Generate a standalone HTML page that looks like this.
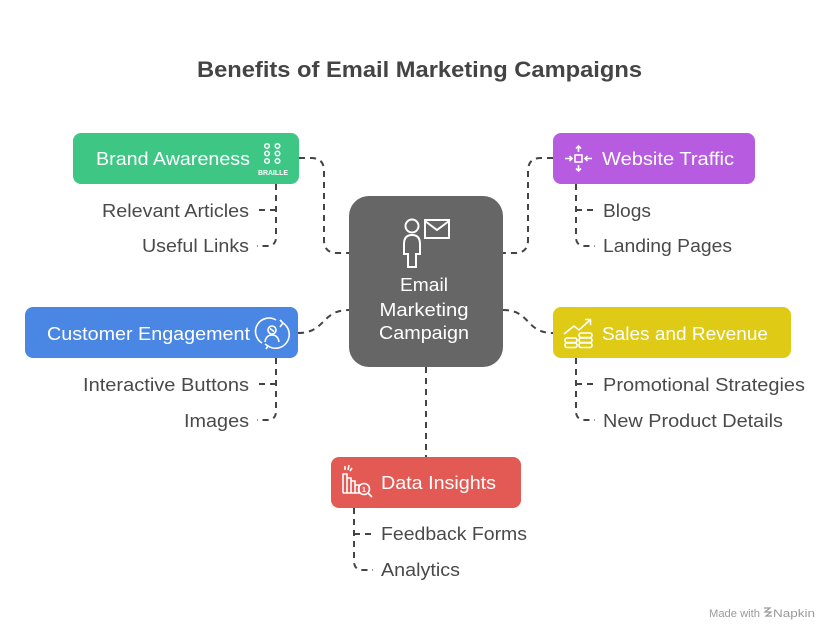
<!DOCTYPE html>
<html><head><meta charset="utf-8"><style>
html,body{margin:0;padding:0;background:#fff;}
svg{display:block;}
text{font-family:"Liberation Sans",sans-serif;}
</style></head><body>
<svg width="840" height="640" viewBox="0 0 840 640" xmlns="http://www.w3.org/2000/svg">
<rect width="840" height="640" fill="#fff"/>
<text x="197" y="77" font-size="22" font-weight="bold" fill="#444" textLength="445" lengthAdjust="spacingAndGlyphs">Benefits of Email Marketing Campaigns</text>

<g fill="none" stroke="#444" stroke-width="2" stroke-dasharray="6 5">
<path d="M299,158 H311 Q324,158 324,171 V240 Q324,253 337,253 H349"/>
<path d="M553,158 H541 Q528,158 528,171 V240 Q528,253 515,253 H503"/>
<path d="M298,333 C326,333 321,310 349,310"/>
<path d="M503,310 C531,310 525,333 553,333"/>
<path d="M426,367 V457"/>
<path d="M276,184 V237 Q276,246 267,246 H257"/>
<path d="M276,210 H258"/>
<path d="M276,358 V411 Q276,420 267,420 H257"/>
<path d="M276,384 H258"/>
<path d="M576,184 V237 Q576,246 585,246 H595"/>
<path d="M576,210 H595"/>
<path d="M576,358 V411 Q576,420 585,420 H595"/>
<path d="M576,384 H595"/>
<path d="M354,508 V561 Q354,570 363,570 H373"/>
<path d="M354,534 H373"/>
</g>

<!-- center -->
<rect x="349" y="196" width="154" height="171" rx="20" fill="#666"/>
<g fill="none" stroke="#fff" stroke-width="2">
<circle cx="412" cy="226" r="6.5"/>
<path d="M408,267 V254 H404 V244 Q404,235 412,235 Q420,235 420,244 V254 H416 V267 Z"/>
<rect x="425" y="220" width="24" height="18"/>
<path d="M425,221 L437,230 L449,221"/>
</g>
<g fill="#fff" font-size="18" text-anchor="middle">
<text x="424" y="291" textLength="48" lengthAdjust="spacingAndGlyphs">Email</text>
<text x="424" y="316" textLength="89" lengthAdjust="spacingAndGlyphs">Marketing</text>
<text x="424" y="339" textLength="90" lengthAdjust="spacingAndGlyphs">Campaign</text>
</g>

<!-- Brand Awareness -->
<rect x="73" y="133" width="226" height="51" rx="8" fill="#3EC685"/>
<text x="96" y="165" font-size="18" fill="#fff" textLength="154" lengthAdjust="spacingAndGlyphs">Brand Awareness</text>
<g fill="none" stroke="#fff" stroke-width="1.5">
<circle cx="267" cy="146" r="2.3"/><circle cx="277.5" cy="146" r="2.3"/>
<circle cx="267" cy="153.5" r="2.3"/><circle cx="277.5" cy="153.5" r="2.3"/>
<circle cx="267" cy="161" r="2.3"/><circle cx="277.5" cy="161" r="2.3"/>
</g>
<text x="273" y="175" font-size="7.5" font-weight="bold" fill="#fff" text-anchor="middle" textLength="30" lengthAdjust="spacingAndGlyphs">BRAILLE</text>

<!-- Website Traffic -->
<rect x="553" y="133" width="202" height="51" rx="8" fill="#B75CE0"/>
<text x="602" y="165" font-size="18" fill="#fff" textLength="132" lengthAdjust="spacingAndGlyphs">Website Traffic</text>
<g fill="none" stroke="#fff" stroke-width="1.6">
<rect x="575" y="155" width="7" height="7"/>
<path d="M578.5,152 V146 M576,148.5 L578.5,146 L581,148.5"/>
<path d="M578.5,165 V171 M576,168.5 L578.5,171 L581,168.5"/>
<path d="M565,158.5 H572 M569.5,156 L572,158.5 L569.5,161"/>
<path d="M592,158.5 H585 M587.5,156 L585,158.5 L587.5,161"/>
</g>

<!-- Customer Engagement -->
<rect x="25" y="307" width="273" height="51" rx="8" fill="#4A87E4"/>
<text x="47" y="340" font-size="18" fill="#fff" textLength="203" lengthAdjust="spacingAndGlyphs">Customer Engagement</text>
<g fill="none" stroke="#fff" stroke-width="1.6">
<path d="M262,343 A13,13 0 0 1 276,320"/>
<path d="M283,323 A13,13 0 0 1 268,346"/>
<path d="M280,320 L283,323 L280,327"/>
<path d="M265,344 L268,346 L266,349"/>
<circle cx="272" cy="330" r="4"/>
<path d="M270,328.5 L274,331.5"/>
<path d="M265,342 Q266,335 272,335 Q278,335 279,342"/>
</g>

<!-- Sales and Revenue -->
<rect x="553" y="307" width="238" height="51" rx="8" fill="#DFCA16"/>
<text x="602" y="340" font-size="18" fill="#fff" textLength="166" lengthAdjust="spacingAndGlyphs">Sales and Revenue</text>
<g fill="none" stroke="#fff" stroke-width="1.6">
<path d="M564,334 L574,326 L579,330 L590,320"/>
<path d="M585,319.5 H590.5 V325"/>
<rect x="565" y="338" width="12" height="4.5" rx="2"/>
<rect x="565" y="343" width="12" height="4.5" rx="2"/>
<rect x="579" y="333" width="13" height="4.5" rx="2"/>
<rect x="579" y="338" width="13" height="4.5" rx="2"/>
<rect x="579" y="343" width="13" height="4.5" rx="2"/>
</g>

<!-- Data Insights -->
<rect x="331" y="457" width="190" height="51" rx="8" fill="#E35A55"/>
<text x="381" y="489" font-size="18" fill="#fff" textLength="115" lengthAdjust="spacingAndGlyphs">Data Insights</text>
<g fill="none" stroke="#fff" stroke-width="1.6">
<path d="M343,493 V474 H347 V493 M347,493 V478 H351 V493 M351,493 V481 H355 V493 M355,493 V485 H359 V493 H343"/>
<path d="M345,466 V470 M349,465 L348,470 M352,468 L350,471"/>
<circle cx="364" cy="489" r="5.5"/>
<path d="M368,493 L372,497"/>
</g>
<text x="364" y="492" font-size="7" font-weight="bold" fill="#fff" text-anchor="middle">1</text>

<!-- sub items -->
<g font-size="18" fill="#4a4a4a">
<text x="102" y="217" textLength="147" lengthAdjust="spacingAndGlyphs">Relevant Articles</text>
<text x="142" y="252" textLength="107" lengthAdjust="spacingAndGlyphs">Useful Links</text>
<text x="83" y="391" textLength="166" lengthAdjust="spacingAndGlyphs">Interactive Buttons</text>
<text x="184" y="427" textLength="65" lengthAdjust="spacingAndGlyphs">Images</text>
<text x="603" y="217" textLength="48" lengthAdjust="spacingAndGlyphs">Blogs</text>
<text x="603" y="252" textLength="129" lengthAdjust="spacingAndGlyphs">Landing Pages</text>
<text x="603" y="391" textLength="202" lengthAdjust="spacingAndGlyphs">Promotional Strategies</text>
<text x="603" y="427" textLength="180" lengthAdjust="spacingAndGlyphs">New Product Details</text>
<text x="381" y="540" textLength="146" lengthAdjust="spacingAndGlyphs">Feedback Forms</text>
<text x="381" y="576" textLength="79" lengthAdjust="spacingAndGlyphs">Analytics</text>
</g>

<!-- watermark -->
<text x="709" y="617" font-size="11" fill="#9a9a9a" textLength="51" lengthAdjust="spacingAndGlyphs">Made with</text>
<g stroke="#9a9a9a" stroke-width="1.2" fill="none">
<path d="M764,608 H770 L765,612 H771 L766,616 H772"/>
</g>
<text x="773" y="617" font-size="11" fill="#9a9a9a" textLength="42" lengthAdjust="spacingAndGlyphs">Napkin</text>
</svg>
</body></html>
